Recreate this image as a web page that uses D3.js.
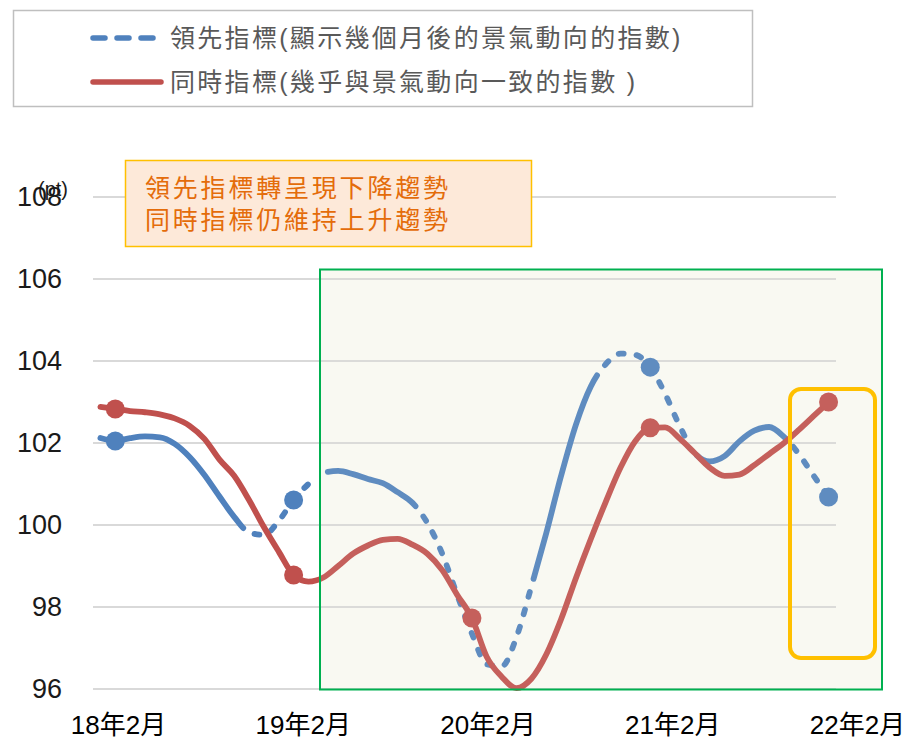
<!DOCTYPE html>
<html lang="zh-Hant">
<head>
<meta charset="utf-8">
<title>領先指標與同時指標</title>
<script src="https://d3js.org/d3.v7.min.js"></script>
<style>
  body { margin: 0; background: #fff; }
  text { font-family: "Liberation Sans", Arial, "Noto Sans CJK TC", sans-serif; }
</style>
</head>
<body>
<script>
// months 18/1 .. 22/2
var months = ["18/1","18/2","18/3","18/4","18/5","18/6","18/7","18/8","18/9","18/10","18/11","18/12",
              "19/1","19/2","19/3","19/4","19/5","19/6","19/7","19/8","19/9","19/10","19/11","19/12",
              "20/1","20/2","20/3","20/4","20/5","20/6","20/7","20/8","20/9","20/10","20/11","20/12",
              "21/1","21/2","21/3","21/4","21/5","21/6","21/7","21/8","21/9","21/10","21/11","21/12",
              "22/1","22/2"];

var leading = [102.12, 102.05, 102.12, 102.16, 102.14, 101.98, 101.66, 101.22, 100.70, 100.20,
               99.82, 99.76, 100.10, 100.61, 101.00, 101.27, 101.32, 101.24, 101.12, 101.02,
               100.80, 100.54, 100.05, 99.30, 98.30, 97.35, 96.60, 96.55, 97.27, 98.50,
               99.80, 101.20, 102.45, 103.38, 103.92, 104.18, 104.15, 103.85, 103.20, 102.40,
               101.75, 101.55, 101.68, 102.04, 102.30, 102.39, 102.15, 101.73, 101.20, 100.68];

var coincident = [102.88, 102.83, 102.78, 102.75, 102.70, 102.60, 102.42, 102.10, 101.60, 101.20,
                  100.61, 99.95, 99.35, 98.78, 98.62, 98.72, 99.00, 99.30, 99.50, 99.64,
                  99.66, 99.52, 99.30, 98.90, 98.30, 97.73, 96.78, 96.30, 96.02, 96.25,
                  96.84, 97.70, 98.71, 99.66, 100.56, 101.40, 102.05, 102.37, 102.38, 102.10,
                  101.75, 101.40, 101.20, 101.23, 101.46, 101.73, 102.00, 102.32, 102.66, 103.00];

var leadingMarks = ["18/2", "19/2", "21/2", "22/2"];
var coincidentMarks = ["18/2", "19/2", "20/2", "21/2", "22/2"];
// stretches of the leading line drawn dashed (fractional month index)
var leadingDashed = [[9.6, 14.5], [21.2, 28.9], [33.4, 39.6], [46, 49]];

var xLabels = ["18年2月", "19年2月", "20年2月", "21年2月", "22年2月"];
var yTicks = [96, 98, 100, 102, 104, 106, 108];
var legendLabels = ["領先指標(顯示幾個月後的景氣動向的指數)", "同時指標(幾乎與景氣動向一致的指數 )"];
var noteLines = ["領先指標轉呈現下降趨勢", "同時指標仍維持上升趨勢"];
var unitLabel = "(pt)";

var blue = "#4f81bd", red = "#c0504d";
var width = 908, height = 739;
var plot = { left: 93, right: 836, top: 197, bottom: 689 };

var svg = d3.select("body").append("svg")
    .attr("width", width)
    .attr("height", height);

var x = d3.scalePoint()
    .domain(months)
    .range([plot.left, plot.right])
    .padding(0.5);

var y = d3.scaleLinear()
    .domain([96, 108])
    .range([plot.bottom, plot.top]);

function xAt(idx) {
  return x(months[0]) + idx * x.step();
}

// shaded background of the green frame
svg.append("rect")
    .attr("x", 320)
    .attr("y", 269.5)
    .attr("width", 562)
    .attr("height", 420)
    .attr("fill", "#fafaf4");

// gridlines
svg.append("g")
  .selectAll("line")
  .data(yTicks)
  .enter()
  .append("line")
    .attr("x1", plot.left)
    .attr("x2", plot.right)
    .attr("y1", function(d) { return y(d); })
    .attr("y2", function(d) { return y(d); })
    .attr("stroke", "#d9d9d9")
    .attr("stroke-width", 2);

// y axis labels
var yAxis = svg.append("g")
    .attr("transform", "translate(" + plot.left + ",0)")
    .call(d3.axisLeft(y).tickValues(yTicks).tickSize(0).tickPadding(31));
yAxis.select(".domain").remove();
yAxis.selectAll("text")
    .attr("font-size", "27px")
    .attr("font-family", null)
    .attr("fill", "#1a1a1a");

svg.append("text")
    .attr("x", 38)
    .attr("y", 196)
    .attr("font-size", "20px")
    .attr("fill", "#1a1a1a")
    .text(unitLabel);

// x axis labels
var xl = d3.scalePoint().domain(xLabels).range([118, 857]);
var xAxis = svg.append("g")
    .attr("transform", "translate(0," + 711 + ")")
    .call(d3.axisBottom(xl).tickSize(0).tickPadding(0));
xAxis.select(".domain").remove();
xAxis.selectAll("text")
    .attr("font-size", "26px")
    .attr("font-family", null)
    .attr("fill", "#000")
    .attr("dy", "0.9em");

var line = d3.line()
    .x(function(d, i) { return x(months[i]); })
    .y(function(d) { return y(d); })
    .curve(d3.curveMonotoneX);

// leading index: solid with dashed stretches
var bluePath = svg.append("path")
    .datum(leading)
    .attr("d", line)
    .attr("fill", "none")
    .attr("stroke", blue)
    .attr("stroke-width", 5.8)
    .attr("stroke-linecap", "round")
    .attr("stroke-linejoin", "round");

var node = bluePath.node();
var total = node.getTotalLength();
function lengthAtX(px) {
  var lo = 0, hi = total;
  for (var k = 0; k < 40; k++) {
    var mid = (lo + hi) / 2;
    if (node.getPointAtLength(mid).x < px) lo = mid; else hi = mid;
  }
  return lo;
}
var dashOn = 5, dashGap = 13;
var pieces = [];
var pos = 0;
leadingDashed.forEach(function(r) {
  var a = lengthAtX(xAt(r[0])), b = Math.min(lengthAtX(xAt(r[1])), total);
  if (a > pos) pieces.push([pos, a]);
  for (var s = a + dashGap; s < b; s += dashOn + dashGap) {
    pieces.push([s, Math.min(s + dashOn, b)]);
  }
  pos = b + dashGap;
});
if (pos < total) pieces.push([pos, total]);
var dash = [];
pieces.forEach(function(p, i) {
  dash.push(p[1] - p[0]);
  dash.push(i < pieces.length - 1 ? pieces[i + 1][0] - p[1] : total + 100);
});
bluePath.attr("stroke-dasharray", dash.join(","));

svg.append("path")
    .datum(coincident)
    .attr("d", line)
    .attr("fill", "none")
    .attr("stroke", red)
    .attr("stroke-width", 5.8)
    .attr("stroke-linecap", "round")
    .attr("stroke-linejoin", "round");

svg.append("g")
  .selectAll("circle")
  .data(leadingMarks)
  .enter()
  .append("circle")
    .attr("cx", function(d) { return x(d); })
    .attr("cy", function(d) { return y(leading[months.indexOf(d)]); })
    .attr("r", 9.5)
    .attr("fill", blue);

svg.append("g")
  .selectAll("circle")
  .data(coincidentMarks)
  .enter()
  .append("circle")
    .attr("cx", function(d) { return x(d); })
    .attr("cy", function(d) { return y(coincident[months.indexOf(d)]); })
    .attr("r", 9.5)
    .attr("fill", red);

// light wash over the later period, then its green frame
svg.append("rect")
    .attr("x", 320)
    .attr("y", 269.5)
    .attr("width", 562)
    .attr("height", 420)
    .attr("fill", "#f4f6e4")
    .attr("fill-opacity", 0.1)
    .attr("stroke", "#00b050")
    .attr("stroke-width", 2);

// yellow highlight around the latest month
svg.append("rect")
    .attr("x", 790)
    .attr("y", 389)
    .attr("width", 85)
    .attr("height", 269)
    .attr("rx", 11)
    .attr("fill", "none")
    .attr("stroke", "#ffc000")
    .attr("stroke-width", 4);

// note box
svg.append("rect")
    .attr("x", 125.5)
    .attr("y", 160.5)
    .attr("width", 406)
    .attr("height", 86)
    .attr("fill", "#fde9d9")
    .attr("stroke", "#ffc000")
    .attr("stroke-width", 1.5);

svg.append("g")
  .selectAll("text")
  .data(noteLines)
  .enter()
  .append("text")
    .attr("x", 145)
    .attr("y", function(d, i) { return 188 + i * 32; })
    .attr("dominant-baseline", "central")
    .attr("font-family", "'Noto Sans CJK TC', sans-serif")
    .attr("font-size", "25px")
    .attr("letter-spacing", "2.8px")
    .attr("fill", "#e46c0a")
    .text(function(d) { return d; });

// legend
svg.append("rect")
    .attr("x", 13.5)
    .attr("y", 10.5)
    .attr("width", 739)
    .attr("height", 96)
    .attr("fill", "#fff")
    .attr("stroke", "#bfbfbf")
    .attr("stroke-width", 1.5);

var legend = svg.append("g")
  .selectAll("g")
  .data(legendLabels)
  .enter()
  .append("g")
    .attr("transform", function(d, i) { return "translate(0," + (38 + i * 44) + ")"; });

legend.append("line")
    .attr("x1", 93)
    .attr("x2", function(d, i) { return i === 0 ? 154 : 161; })
    .attr("stroke", function(d, i) { return i === 0 ? blue : red; })
    .attr("stroke-width", 5.5)
    .attr("stroke-linecap", "round")
    .attr("stroke-dasharray", function(d, i) { return i === 0 ? "12,12" : null; });

legend.append("text")
    .attr("x", 170)
    .attr("dominant-baseline", "central")
    .attr("font-family", "'Noto Sans CJK TC', sans-serif")
    .attr("font-size", "25px")
    .attr("letter-spacing", "2.3px")
    .attr("fill", "#595959")
    .text(function(d) { return d; });
</script>
</body>
</html>
